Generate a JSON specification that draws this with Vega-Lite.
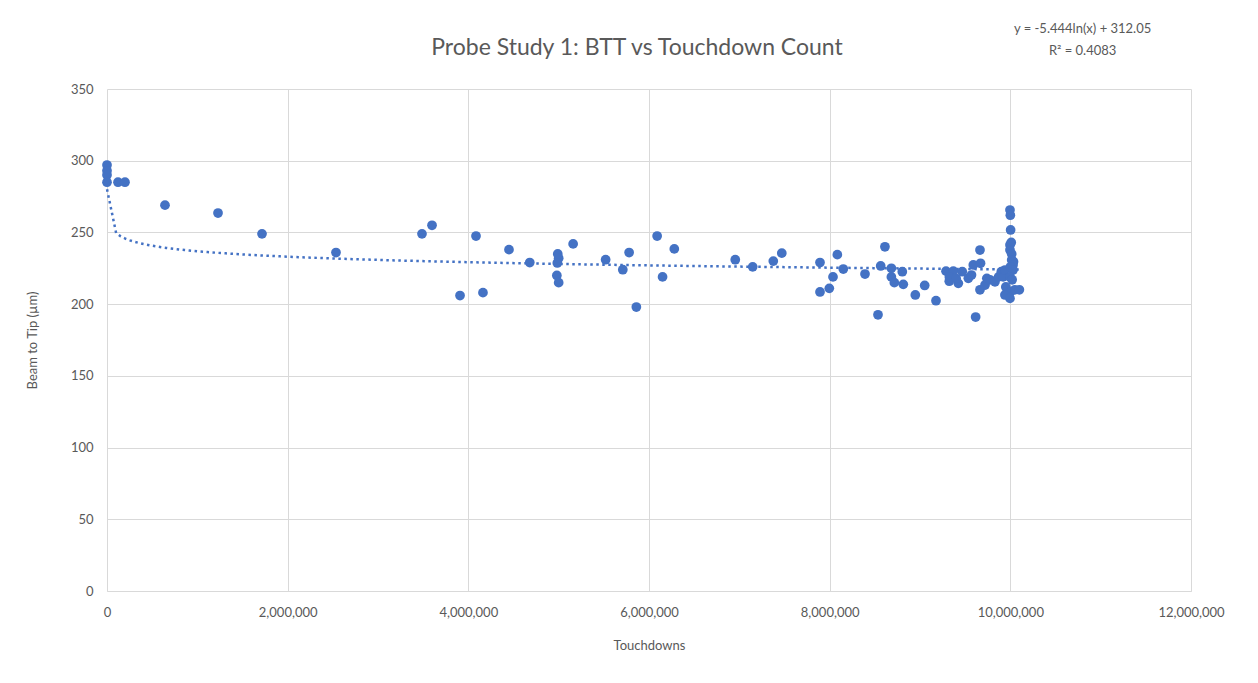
{
  "$schema": "https://vega.github.io/schema/vega-lite/v6.json",
  "width": 1084,
  "height": 502,
  "autosize": "none",
  "padding": {"left": 107, "top": 89, "right": 67, "bottom": 92},
  "background": "white",
  "title": {
    "text": "Probe Study 1: BTT vs Touchdown Count",
    "font": "Lato",
    "fontSize": 23,
    "fontWeight": "normal",
    "color": "#595959",
    "offset": -37,
    "anchor": "middle",
    "dx": -12
  },
  "config": {
    "view": {"stroke": null},
    "axis": {
      "labelFont": "Lato",
      "labelFontSize": 13,
      "labelColor": "#595959",
      "titleFont": "Lato",
      "titleFontSize": 13,
      "titleFontWeight": "normal",
      "titleColor": "#595959",
      "gridColor": "#d9d9d9",
      "gridWidth": 1,
      "domainColor": "#d9d9d9",
      "tickSize": 0,
      "labelFlush": false,
      "labelOverlap": false
    }
  },
  "data": {
    "values": [
      {"touchdowns": 5, "btt": 297},
      {"touchdowns": 10, "btt": 293},
      {"touchdowns": 10, "btt": 290},
      {"touchdowns": 20, "btt": 285},
      {"touchdowns": 122000, "btt": 285},
      {"touchdowns": 199000, "btt": 285},
      {"touchdowns": 642000, "btt": 269},
      {"touchdowns": 1229000, "btt": 263.5},
      {"touchdowns": 1716000, "btt": 249},
      {"touchdowns": 2535000, "btt": 236},
      {"touchdowns": 3487000, "btt": 249},
      {"touchdowns": 3598000, "btt": 255},
      {"touchdowns": 3908000, "btt": 206},
      {"touchdowns": 4085000, "btt": 247.5},
      {"touchdowns": 4162000, "btt": 208},
      {"touchdowns": 4450000, "btt": 238},
      {"touchdowns": 4680000, "btt": 229},
      {"touchdowns": 4990000, "btt": 235},
      {"touchdowns": 5000000, "btt": 232},
      {"touchdowns": 4985000, "btt": 228.7},
      {"touchdowns": 4980000, "btt": 220},
      {"touchdowns": 5000000, "btt": 215},
      {"touchdowns": 5160000, "btt": 242},
      {"touchdowns": 5520000, "btt": 231},
      {"touchdowns": 5710000, "btt": 224},
      {"touchdowns": 5780000, "btt": 236},
      {"touchdowns": 5860000, "btt": 198},
      {"touchdowns": 6090000, "btt": 247.5},
      {"touchdowns": 6150000, "btt": 219},
      {"touchdowns": 6280000, "btt": 238.5},
      {"touchdowns": 6955000, "btt": 231},
      {"touchdowns": 7148000, "btt": 226},
      {"touchdowns": 7376000, "btt": 230},
      {"touchdowns": 7470000, "btt": 235.6},
      {"touchdowns": 7893000, "btt": 229},
      {"touchdowns": 7893000, "btt": 208.5},
      {"touchdowns": 7996000, "btt": 211},
      {"touchdowns": 8037000, "btt": 219},
      {"touchdowns": 8085000, "btt": 234.5},
      {"touchdowns": 8151000, "btt": 224.5},
      {"touchdowns": 8391000, "btt": 221},
      {"touchdowns": 8535000, "btt": 192.6},
      {"touchdowns": 8565000, "btt": 226.6},
      {"touchdowns": 8612000, "btt": 240},
      {"touchdowns": 8683000, "btt": 225},
      {"touchdowns": 8683000, "btt": 219},
      {"touchdowns": 8716000, "btt": 215},
      {"touchdowns": 8804000, "btt": 222.6},
      {"touchdowns": 8815000, "btt": 213.8},
      {"touchdowns": 8948000, "btt": 206.4},
      {"touchdowns": 9052000, "btt": 213},
      {"touchdowns": 9177000, "btt": 202.4},
      {"touchdowns": 9288000, "btt": 223},
      {"touchdowns": 9324000, "btt": 216},
      {"touchdowns": 9369000, "btt": 223},
      {"touchdowns": 9424000, "btt": 214.5},
      {"touchdowns": 9325000, "btt": 219},
      {"touchdowns": 9400000, "btt": 218},
      {"touchdowns": 9468000, "btt": 222.6},
      {"touchdowns": 9535000, "btt": 218},
      {"touchdowns": 9570000, "btt": 220.3},
      {"touchdowns": 9590000, "btt": 227.3},
      {"touchdowns": 9616000, "btt": 191},
      {"touchdowns": 9664000, "btt": 237.7},
      {"touchdowns": 9670000, "btt": 228.5},
      {"touchdowns": 9664000, "btt": 210},
      {"touchdowns": 9720000, "btt": 213.3},
      {"touchdowns": 9740000, "btt": 218},
      {"touchdowns": 9775000, "btt": 217},
      {"touchdowns": 9830000, "btt": 215.6},
      {"touchdowns": 9870000, "btt": 219},
      {"touchdowns": 9900000, "btt": 222.6},
      {"touchdowns": 9920000, "btt": 219},
      {"touchdowns": 9940000, "btt": 223.8},
      {"touchdowns": 9996000, "btt": 265.6},
      {"touchdowns": 10000000, "btt": 262},
      {"touchdowns": 10003000, "btt": 251.7},
      {"touchdowns": 9996000, "btt": 241.2},
      {"touchdowns": 10010000, "btt": 243},
      {"touchdowns": 9996000, "btt": 237.7},
      {"touchdowns": 10015000, "btt": 235},
      {"touchdowns": 10015000, "btt": 230.8},
      {"touchdowns": 10035000, "btt": 229.6},
      {"touchdowns": 10030000, "btt": 227.3},
      {"touchdowns": 10000000, "btt": 226},
      {"touchdowns": 10030000, "btt": 223.8},
      {"touchdowns": 9996000, "btt": 219},
      {"touchdowns": 10020000, "btt": 217},
      {"touchdowns": 9950000, "btt": 212},
      {"touchdowns": 10000000, "btt": 208.5},
      {"touchdowns": 9940000, "btt": 206.4},
      {"touchdowns": 9996000, "btt": 204},
      {"touchdowns": 10050000, "btt": 210},
      {"touchdowns": 10100000, "btt": 210}
    ]
  },
  "layer": [
    {
      "transform": [
        {"regression": "btt", "on": "touchdowns", "method": "log", "extent": [400, 10100000]}
      ],
      "mark": {"type": "line", "color": "#4472C4", "strokeWidth": 2.5, "strokeDash": [2.5, 3.5], "strokeCap": "butt"},
      "encoding": {
        "x": {"field": "touchdowns", "type": "quantitative"},
        "y": {"field": "btt", "type": "quantitative"}
      }
    },
    {
      "mark": {"type": "circle", "size": 95, "opacity": 1, "color": "#4472C4"},
      "encoding": {
        "x": {
          "field": "touchdowns",
          "type": "quantitative",
          "title": "Touchdowns",
          "scale": {"domain": [0, 12000000], "nice": false},
          "axis": {
            "values": [0, 2000000, 4000000, 6000000, 8000000, 10000000, 12000000],
            "format": ",d",
            "labelPadding": 15,
            "titlePadding": 20
          }
        },
        "y": {
          "field": "btt",
          "type": "quantitative",
          "title": "Beam to Tip (µm)",
          "scale": {"domain": [0, 350], "nice": false},
          "axis": {
            "values": [0, 50, 100, 150, 200, 250, 300, 350],
            "domain": false,
            "labelPadding": 14,
            "titlePadding": 31
          }
        }
      }
    },
    {
      "data": {"values": [{}]},
      "mark": {"type": "text", "font": "Lato", "fontSize": 13, "color": "#595959", "align": "center", "baseline": "middle"},
      "encoding": {
        "x": {"datum": 10800000, "type": "quantitative"},
        "y": {"datum": 392, "type": "quantitative"},
        "text": {"value": "y = -5.444ln(x) + 312.05"}
      }
    },
    {
      "data": {"values": [{}]},
      "mark": {"type": "text", "font": "Lato", "fontSize": 13, "color": "#595959", "align": "center", "baseline": "middle"},
      "encoding": {
        "x": {"datum": 10800000, "type": "quantitative"},
        "y": {"datum": 376.5, "type": "quantitative"},
        "text": {"value": "R² = 0.4083"}
      }
    }
  ]
}
